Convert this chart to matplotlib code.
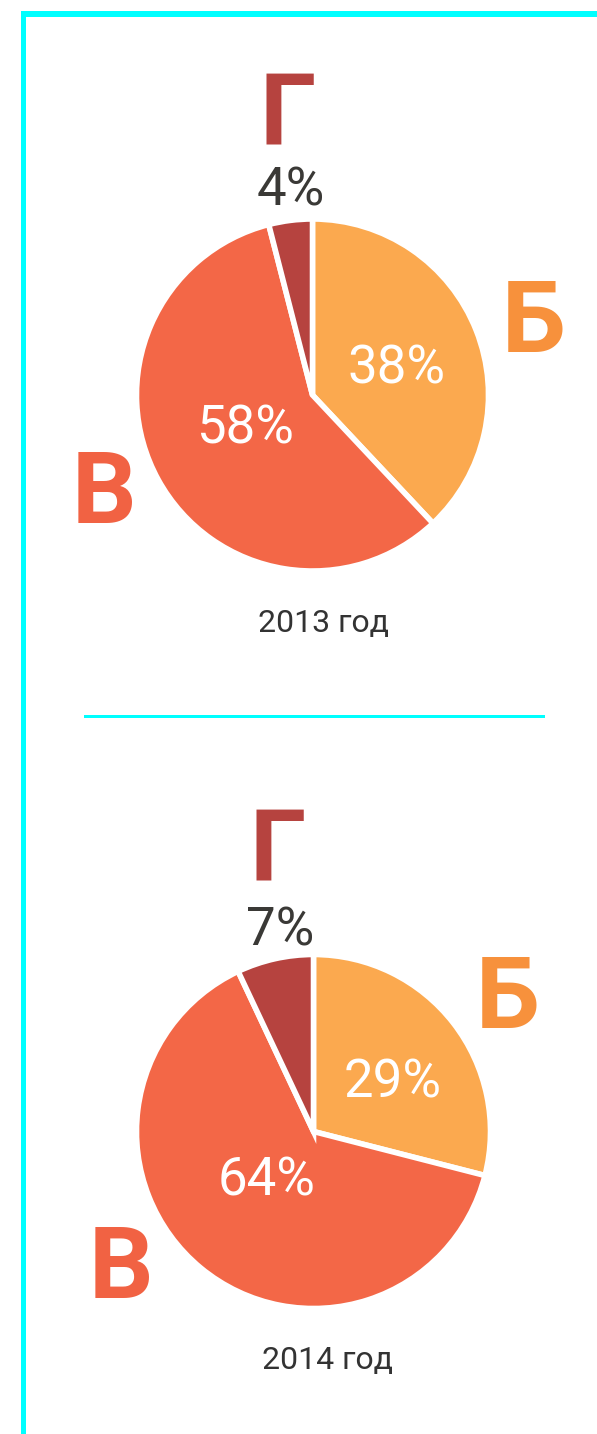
import matplotlib.pyplot as plt
from matplotlib.patches import Rectangle

# data
years = ['2013 год', '2014 год']
letters = ['Б', 'В', 'Г']
share_2013 = [38, 58, 4]
share_2014 = [29, 64, 7]

wedge_colors = ['#FBA94F', '#F36747', '#B6433F']
letter_colors = ['#F7913C', '#F16243', '#B6433F']

W, H = 597, 1434
fig = plt.figure(figsize=(W / 100, H / 100), dpi=100)
fig.patch.set_facecolor('white')
ax = fig.add_axes([0, 0, 1, 1])
ax.set_xlim(0, W)
ax.set_ylim(0, H)
ax.set_aspect('equal')
ax.axis('off')

def py(y):
    # pixel row from top -> data y
    return H - y

# cyan frame
ax.add_patch(Rectangle((20.5, 0), 5.5, py(11), color='#00FFFF', lw=0))
ax.add_patch(Rectangle((20.5, py(16.5)), W - 20.5, 5.5, color='#00FFFF', lw=0))
ax.add_patch(Rectangle((84, py(717.5)), 461, 2.6, color='#00FFFF', lw=0))

font = 'Roboto'

def draw_pie(vals, cx, cy, r, year, pos):
    ax.pie(vals, colors=wedge_colors, startangle=90, counterclock=False,
           center=(cx, py(cy)), radius=r,
           wedgeprops=dict(edgecolor='white', linewidth=4))
    # letters
    for i, (x, y) in enumerate(pos['letters']):
        ax.text(x, py(y), letters[i], color=letter_colors[i], fontsize=73,
                fontweight='bold', family=font, ha='center', va='baseline')
    # percentages
    (x0, y0), (x1, y1), (x2, y2) = pos['pcts']
    ax.text(x0, py(y0), f'{vals[0]}%', color='white', fontsize=38,
            family=font, ha='center', va='baseline')
    ax.text(x1, py(y1), f'{vals[1]}%', color='white', fontsize=38,
            family=font, ha='center', va='baseline')
    ax.text(x2, py(y2), f'{vals[2]}%', color='#3A3936', fontsize=38,
            family=font, ha='center', va='baseline')
    x, y = pos['year']
    ax.text(x, py(y), year, color='#333333', fontsize=23,
            family=font, ha='center', va='baseline')

draw_pie(share_2013, 312.5, 395, 176, years[0],
         {'letters': [(534, 352), (104, 523), (288, 143)],
          'pcts': [(397, 383), (245, 443), (291, 206)],
          'year': (324, 632)})
draw_pie(share_2014, 313.5, 1131.5, 177, years[1],
         {'letters': [(508, 1028), (121, 1298), (278, 880)],
          'pcts': [(393, 1097), (267, 1195), (280, 946)],
          'year': (327, 1369)})

ax.set_xlim(0, W)
ax.set_ylim(0, H)

fig.savefig('out.png', dpi=100)
